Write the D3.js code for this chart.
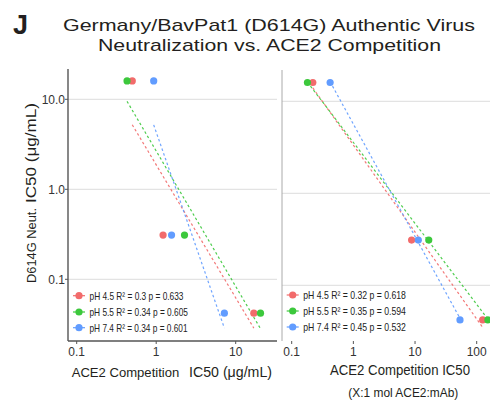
<!DOCTYPE html>
<html><head><meta charset="utf-8">
<script src="https://cdn.jsdelivr.net/npm/d3@7"></script>
<style>
html,body{margin:0;padding:0;background:#fff;}
svg{display:block;font-family:"Liberation Sans",Arial,sans-serif;}
</style></head>
<body><svg id="c" width="490" height="402"></svg>
<script>
// ---- data ----
const seriesNames = ["pH 4.5", "pH 5.5", "pH 7.4"];
const seriesColors = ["#F26B6B", "#3CC83C", "#619CFF"];
// D614G neutralization IC50 (µg/mL) for the three antibodies
const neut45 = [16, 0.31, 0.042];
const neut55 = [16, 0.31, 0.042];
const neut74 = [16, 0.31, 0.042];
// ACE2 competition IC50 (µg/mL)
const aceUg45 = [0.50, 1.22, 16.9];
const aceUg55 = [0.43, 2.27, 20.5];
const aceUg74 = [0.93, 1.56, 7.2];
// ACE2 competition IC50 (X:1 mol ACE2:mAb)
const aceMol45 = [0.22, 8.8, 125];
const aceMol55 = [0.18, 16.7, 152];
const aceMol74 = [0.42, 11.3, 53.6];
// legend statistics
const r2Left = ["0.3", "0.34", "0.34"];
const pLeft = ["0.633", "0.605", "0.601"];
const r2Right = ["0.32", "0.35", "0.45"];
const pRight = ["0.618", "0.594", "0.532"];
// tick labels
const yTicks = [10, 1, 0.1];
const yTickLabels = ["10.0", "1.0", "0.1"];
const xTicksLeft = [0.1, 1, 10];
const xTickLabelsLeft = ["0.1", "1", "10"];
const xTicksRight = [0.1, 1, 10, 100];
const xTickLabelsRight = ["0.1", "1", "10", "100"];

const svg = d3.select("#c");
const txt = "#231f20";

// title
svg.append("text").attr("x", 13).attr("y", 34).attr("font-size", 27).attr("font-weight", "bold")
  .attr("fill", txt).text("J");
svg.append("text").attr("x", 63).attr("y", 31).attr("font-size", 17).attr("fill", txt)
  .attr("textLength", 412).attr("lengthAdjust", "spacingAndGlyphs")
  .text("Germany/BavPat1 (D614G) Authentic Virus");
svg.append("text").attr("x", 98).attr("y", 50.5).attr("font-size", 17).attr("fill", txt)
  .attr("textLength", 343).attr("lengthAdjust", "spacingAndGlyphs")
  .text("Neutralization vs. ACE2 Competition");

function regress(xs, ys) {
  const lx = xs.map(Math.log10), ly = ys.map(Math.log10);
  const mx = d3.mean(lx), my = d3.mean(ly);
  let sxy = 0, sxx = 0;
  lx.forEach((v, i) => { sxy += (v - mx) * (ly[i] - my); sxx += (v - mx) * (v - mx); });
  const b = sxy / sxx, a = my - b * mx;
  return v => Math.pow(10, a + b * Math.log10(v));
}

function panel(cfg) {
  const g = svg.append("g");
  const x = d3.scaleLog().domain(cfg.xd).range(cfg.xr);
  const y = d3.scaleLog().domain([0.1, 10]).range(cfg.yr);
  const clipId = "clip" + cfg.id;
  svg.append("clipPath").attr("id", clipId).append("rect")
    .attr("x", cfg.left).attr("y", cfg.top).attr("width", cfg.right - cfg.left).attr("height", cfg.bottom - cfg.top);
  // grid
  g.selectAll(".grid").data(yTicks).join("line")
    .attr("x1", cfg.left).attr("x2", cfg.right)
    .attr("y1", d => y(d)).attr("y2", d => y(d))
    .attr("stroke", "#dcdcdc").attr("stroke-width", 1);
  // axes
  g.append("line").attr("x1", cfg.left).attr("x2", cfg.left).attr("y1", cfg.top).attr("y2", cfg.bottom)
    .attr("stroke", cfg.axisColor).attr("stroke-width", cfg.axisWidth);
  if (cfg.bottomLine) {
    g.append("line").attr("x1", cfg.left).attr("x2", cfg.right).attr("y1", cfg.bottom).attr("y2", cfg.bottom)
      .attr("stroke", cfg.axisColor).attr("stroke-width", cfg.axisWidth);
  }
  // x ticks
  cfg.xt.forEach((t, i) => {
    g.append("line").attr("x1", x(t)).attr("x2", x(t)).attr("y1", cfg.bottom).attr("y2", cfg.bottom + 3)
      .attr("stroke", "#555").attr("stroke-width", 1);
    g.append("text").attr("x", x(t)).attr("y", 356).attr("text-anchor", "middle")
      .attr("font-size", 12).attr("fill", "#333").text(cfg.xtl[i]);
  });
  if (cfg.yLabels) {
    yTicks.forEach((t, i) => {
      g.append("line").attr("x1", cfg.left - 3).attr("x2", cfg.left).attr("y1", y(t)).attr("y2", y(t))
        .attr("stroke", "#555").attr("stroke-width", 1);
      g.append("text").attr("x", cfg.left - 3).attr("y", y(t)).attr("dy", "0.36em").attr("text-anchor", "end")
        .attr("font-size", 12).attr("fill", "#333").text(yTickLabels[i]);
    });
  }
  const plot = g.append("g").attr("clip-path", `url(#${clipId})`);
  // regression lines
  cfg.series.forEach((s, i) => {
    const f = regress(s.x, s.y);
    const x0 = d3.min(s.x), x1 = d3.max(s.x);
    plot.append("line").attr("x1", x(x0)).attr("y1", y(f(x0))).attr("x2", x(x1)).attr("y2", y(f(x1)))
      .attr("stroke", seriesColors[i]).attr("stroke-width", 1.2).attr("stroke-dasharray", "2.5,2.5")
      .attr("opacity", 0.9);
  });
  // points
  cfg.series.forEach((s, i) => {
    plot.selectAll(null).data(s.x.map((v, k) => [v, s.y[k]])).join("circle")
      .attr("cx", d => x(d[0])).attr("cy", d => y(d[1])).attr("r", 3.6)
      .attr("fill", seriesColors[i]);
  });
  // legend
  seriesNames.forEach((n, i) => {
    const ly = cfg.legY[i];
    g.append("line").attr("x1", cfg.legX - 6).attr("x2", cfg.legX + 6).attr("y1", ly).attr("y2", ly)
      .attr("stroke", seriesColors[i]).attr("stroke-width", 1.2);
    g.append("circle").attr("cx", cfg.legX).attr("cy", ly).attr("r", 3.6).attr("fill", seriesColors[i]);
    g.append("text").attr("x", cfg.legX + 10.5).attr("y", ly + 3.8).attr("font-size", 10.5)
      .attr("fill", "#222").attr("textLength", cfg.legW[i]).attr("lengthAdjust", "spacingAndGlyphs")
      .text(n + " R² = " + cfg.r2[i] + " p = " + cfg.p[i]);
  });
  return g;
}

panel({
  id: "L", left: 68, right: 277, top: 69, bottom: 341,
  xd: [0.1, 10], xr: [76.7, 235.7], yr: [279.3, 99.3],
  xt: xTicksLeft, xtl: xTickLabelsLeft, yLabels: true,
  axisColor: "#555", axisWidth: 1.4, bottomLine: true,
  series: [{x: aceUg45, y: neut45}, {x: aceUg55, y: neut55}, {x: aceUg74, y: neut74}],
  legX: 79, legY: [295.7, 312, 327.7], legW: [94, 98.4, 98], r2: r2Left, p: pLeft
});
panel({
  id: "R", left: 282, right: 490, top: 70, bottom: 341,
  xd: [0.1, 100], xr: [291.7, 476.7], yr: [285.3, 101.3],
  xt: xTicksRight, xtl: xTickLabelsRight, yLabels: false,
  axisColor: "#aaa", axisWidth: 1, bottomLine: false,
  series: [{x: aceMol45, y: neut45}, {x: aceMol55, y: neut55}, {x: aceMol74, y: neut74}],
  legX: 292.7, legY: [295, 311, 327], legW: [102.7, 102.7, 102.7], r2: r2Right, p: pRight
});

// axis titles
const yt = svg.append("g").attr("transform", "translate(36,0) rotate(-90)");
yt.append("text").attr("x", -283).attr("y", 0).attr("font-size", 13).attr("fill", txt)
  .attr("textLength", 75).attr("lengthAdjust", "spacingAndGlyphs").text("D614G Neut.");
yt.append("text").attr("x", -203).attr("y", 0).attr("font-size", 15).attr("fill", txt)
  .attr("textLength", 100).attr("lengthAdjust", "spacingAndGlyphs").text("IC50 (μg/mL)");

svg.append("text").attr("x", 71.7).attr("y", 377).attr("font-size", 13).attr("fill", txt)
  .attr("textLength", 107.6).attr("lengthAdjust", "spacingAndGlyphs").text("ACE2 Competition");
svg.append("text").attr("x", 189).attr("y", 377).attr("font-size", 15).attr("fill", txt)
  .attr("textLength", 83).attr("lengthAdjust", "spacingAndGlyphs").text("IC50 (μg/mL)");
svg.append("text").attr("x", 330).attr("y", 375).attr("font-size", 14).attr("fill", txt)
  .attr("textLength", 140).attr("lengthAdjust", "spacingAndGlyphs").text("ACE2 Competition IC50");
svg.append("text").attr("x", 348.3).attr("y", 396.5).attr("font-size", 13).attr("fill", txt)
  .attr("textLength", 110).attr("lengthAdjust", "spacingAndGlyphs").text("(X:1 mol ACE2:mAb)");
</script></body></html>
